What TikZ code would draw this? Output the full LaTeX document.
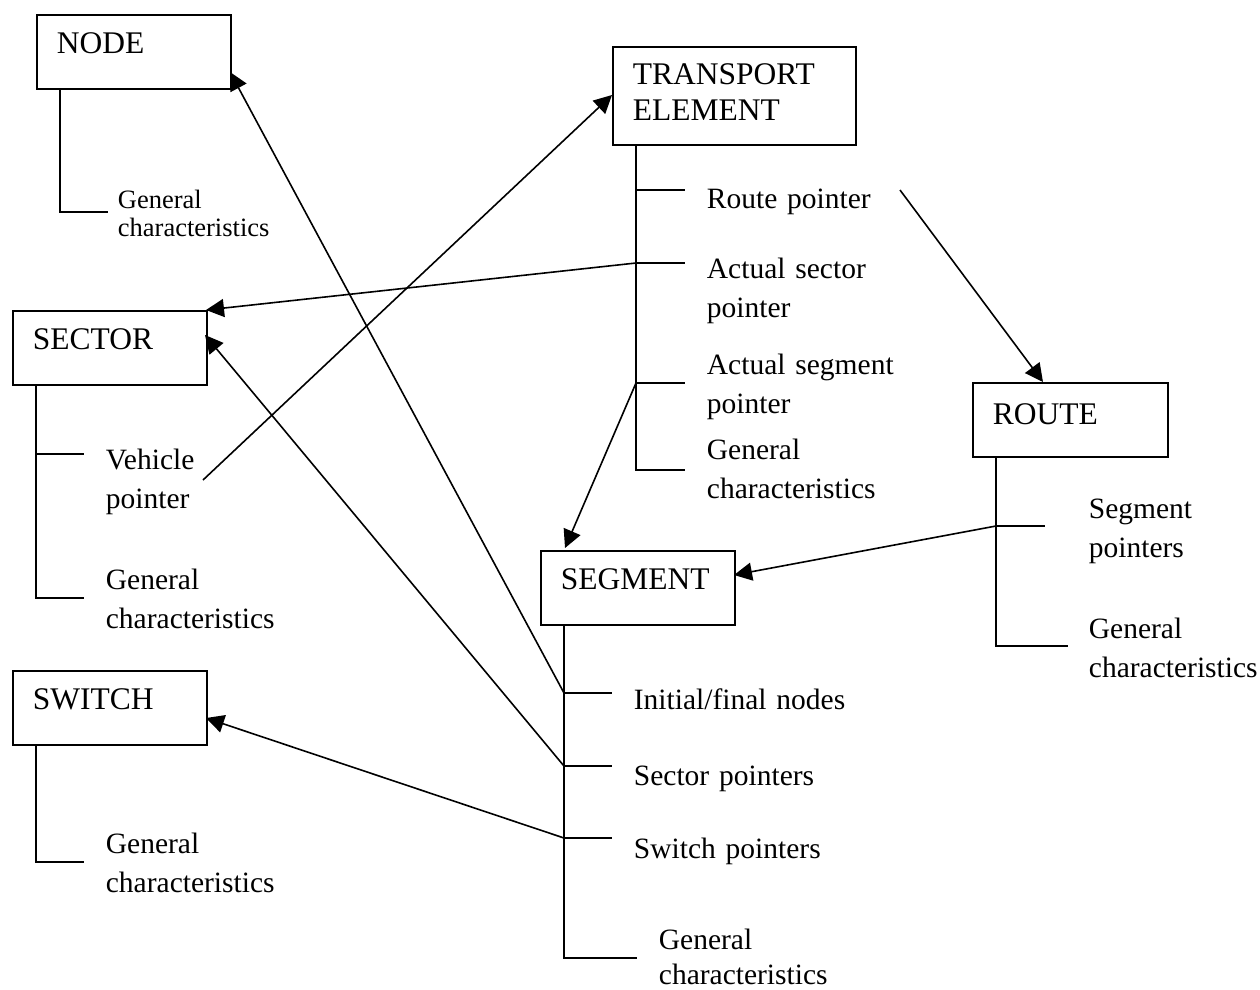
\documentclass[tikz,border=0pt]{standalone}
\usepackage{fontspec}
\setmainfont{Liberation Serif}
\usetikzlibrary{arrows.meta}
\begin{document}
\begin{tikzpicture}[x=1pt,y=-1pt,
  line width=1.8pt,
  box/.style={draw, anchor=north west, inner xsep=20pt, inner ysep=0pt, align=left,
    text width=154pt, text height=39pt, text depth=35pt, font=\fontsize{31.5}{36}\selectfont},
  lbl/.style={anchor=base west, inner sep=0pt, align=left, text width=260pt,
    font=\fontsize{29.5}{39}\selectfont},
  small/.style={anchor=base west, inner sep=0pt, align=left, text width=200pt,
    font=\fontsize{26.5}{28}\selectfont},
  ptr/.style={-{Triangle[length=18pt,width=18pt]}, line width=1.6pt},
  tree/.style={line width=1.8pt}]
\useasboundingbox (0,0) rectangle (1260,989);

% boxes
\node[box] (NODE) at (36,14) {NODE};
\node[box, text width=203pt, text height=38pt, text depth=60pt] (TE) at (612,46) {TRANSPORT\\ELEMENT};
\node[box] (SECTOR) at (12,310) {SECTOR};
\node[box, text width=155pt, text height=42pt, text depth=32pt] (ROUTE) at (972,382) {ROUTE};
\node[box] (SEGMENT) at (540,550) {SEGMENT};
\node[box] (SWITCH) at (12,670) {SWITCH};

% tree coordinates
\coordinate (n0) at (60,88);   \coordinate (n1) at (60,212);
\coordinate (t0) at (636,144); \coordinate (t1) at (636,190); \coordinate (t2) at (636,263);
\coordinate (t3) at (636,383); \coordinate (t4) at (636,470);
\coordinate (c0) at (36,384);  \coordinate (c1) at (36,454);  \coordinate (c2) at (36,598);
\coordinate (r0) at (996,456); \coordinate (r1) at (996,526); \coordinate (r2) at (996,646);
\coordinate (g0) at (564,624); \coordinate (g1) at (564,693); \coordinate (g2) at (564,766);
\coordinate (g3) at (564,838); \coordinate (g4) at (564,958);
\coordinate (w0) at (36,744);  \coordinate (w1) at (36,862);

% trees
\draw[tree] (n0) -- (n1) -- ++(48,0);
\draw[tree] (t0) -- (t4) -- ++(49,0);
\draw[tree] (t1) -- ++(49,0);
\draw[tree] (t2) -- ++(49,0);
\draw[tree] (t3) -- ++(49,0);
\draw[tree] (c0) -- (c2) -- ++(48,0);
\draw[tree] (c1) -- ++(48,0);
\draw[tree] (r0) -- (r2) -- ++(72,0);
\draw[tree] (r1) -- ++(49,0);
\draw[tree] (g0) -- (g4) -- ++(73,0);
\draw[tree] (g1) -- ++(48,0);
\draw[tree] (g2) -- ++(48,0);
\draw[tree] (g3) -- ++(48,0);
\draw[tree] (w0) -- (w1) -- ++(48,0);

% labels
\node[small] (nodeGen) at (117,208) {General\\characteristics};
\node[lbl] (teRoute) at (706,208) {Route pointer};
\node[lbl] (teSector) at (706,278) {Actual sector\\pointer};
\node[lbl] (teSegment) at (706,374) {Actual segment\\pointer};
\node[lbl] (teGen) at (706,459) {General\\characteristics};
\node[lbl] (secVeh) at (105,469) {Vehicle\\pointer};
\node[lbl] (secGen) at (105,589) {General\\characteristics};
\node[lbl] (rouSeg) at (1088,518) {Segment\\pointers};
\node[lbl] (rouGen) at (1088,638) {General\\characteristics};
\node[lbl] (segNodes) at (633,709) {Initial/final nodes};
\node[lbl] (segSector) at (633,785) {Sector pointers};
\node[lbl] (segSwitch) at (633,858) {Switch pointers};
\node[lbl, font=\fontsize{29.5}{35}\selectfont] (segGen) at (658,949) {General\\characteristics};
\node[lbl] (swGen) at (105,853) {General\\characteristics};

% arrow end points
\coordinate (aNODE) at (230,72);
\coordinate (aSECa) at (206,310);
\coordinate (aSECb) at (205,335);
\coordinate (aSW) at (206,718);
\coordinate (aTE) at (612,95);
\coordinate (aSEGa) at (565,548);
\coordinate (aSEGb) at (734,575);
\coordinate (aROU) at (1043,382);
\coordinate (vp) at (203,480);
\coordinate (rp) at (900,190);

% pointers
\draw[ptr] (g1) -- (aNODE);
\draw[ptr] (g2) -- (aSECb);
\draw[ptr] (g3) -- (aSW);
\draw[ptr] (t2) -- (aSECa);
\draw[ptr] (vp) -- (aTE);
\draw[ptr] (t3) -- (aSEGa);
\draw[ptr] (rp) -- (aROU);
\draw[ptr] (r1) -- (aSEGb);
\end{tikzpicture}
\end{document}
